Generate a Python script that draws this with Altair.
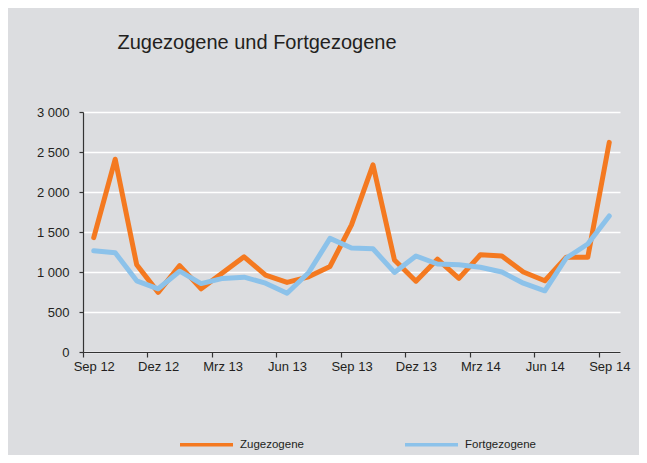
import altair as alt
import pandas as pd

months = ["Sep 12", "Okt 12", "Nov 12", "Dez 12", "Jan 13", "Feb 13", "Mrz 13", "Apr 13",
          "Mai 13", "Jun 13", "Jul 13", "Aug 13", "Sep 13", "Okt 13", "Nov 13", "Dez 13",
          "Jan 14", "Feb 14", "Mrz 14", "Apr 14", "Mai 14", "Jun 14", "Jul 14", "Aug 14", "Sep 14"]
zugezogene = [1430, 2410, 1090, 745, 1080, 790, 990, 1190, 960, 870, 940, 1070,
              1590, 2340, 1150, 885, 1160, 920, 1215, 1200, 1000, 890, 1185, 1185, 2620]
fortgezogene = [1265, 1240, 890, 790, 1010, 855, 920, 935, 860, 735, 990, 1420,
                1300, 1290, 995, 1200, 1100, 1090, 1060, 1000, 860, 765, 1175, 1350, 1700]
series = ["Zugezogene", "Fortgezogene"]
colors = ["#f47920", "#8cc2ea"]
tick_months = months[::3]
y_ticks = [0, 500, 1000, 1500, 2000, 2500, 3000]

df = pd.DataFrame({"Monat": months, "Zugezogene": zugezogene, "Fortgezogene": fortgezogene})
long = df.melt(id_vars="Monat", var_name="Reihe", value_name="Wert")

FONT = "Liberation Sans"
TXT = "#231f20"
PLOT_W = 537
HALF_BAND = PLOT_W / len(months) / 2

x_enc = alt.X("Monat:O", sort=months, title=None,
              scale=alt.Scale(type="band", paddingInner=0, paddingOuter=0),
              axis=alt.Axis(values=tick_months, labelAngle=0,
                            tickOffset=-HALF_BAND, labelOffset=HALF_BAND,
                            tickSize=5, labelPadding=3, grid=False,
                            domainColor="#333333", tickColor="#333333", domainWidth=1.2, tickWidth=1.2,
                            labelFont=FONT, labelFontSize=13, labelColor=TXT))
y_enc = alt.Y("Wert:Q", title=None,
              scale=alt.Scale(domain=[0, 3000], nice=False),
              axis=alt.Axis(values=y_ticks, tickSize=4, labelPadding=10,
                            labelExpr="replace(format(datum.value, ','), ',', ' ')",
                            grid=True, gridColor="#ffffff", gridWidth=1.6,
                            domainColor="#333333", tickColor="#333333", domainWidth=1.2, tickWidth=1.2,
                            labelFont=FONT, labelFontSize=13, labelColor=TXT))
color_enc = alt.Color("Reihe:N", scale=alt.Scale(domain=series, range=colors),
                      legend=alt.Legend(title=None, orient="none", direction="horizontal",
                                        legendX=95, legendY=304,
                                        symbolType="stroke", symbolSize=2809, symbolStrokeWidth=3.5,
                                        labelFont=FONT, labelFontSize=11.5, labelColor=TXT,
                                        labelOffset=5, columnPadding=94))

base = alt.Chart(long).mark_line(strokeWidth=5, strokeJoin="round", strokeCap="round").encode(
    x=x_enc, y=y_enc, color=color_enc)

chart = alt.layer(
    base.transform_filter(alt.datum.Reihe == "Zugezogene"),
    base.transform_filter(alt.datum.Reihe == "Fortgezogene"),
).properties(
    width=PLOT_W, height=240,
    title=alt.TitleParams("Zugezogene und Fortgezogene", font=FONT, fontSize=20,
                          fontWeight="normal", color=TXT, anchor="start", dx=81,
                          offset=37, baseline="alphabetic"),
    background="#dcdde0",
    autosize=alt.AutoSizeParams(type="none"),
    padding={"left": 75, "top": 104, "right": 19, "bottom": 103},
).configure_view(stroke=None)

chart.save("out.html", embed_options={"renderer": "svg", "actions": False})
